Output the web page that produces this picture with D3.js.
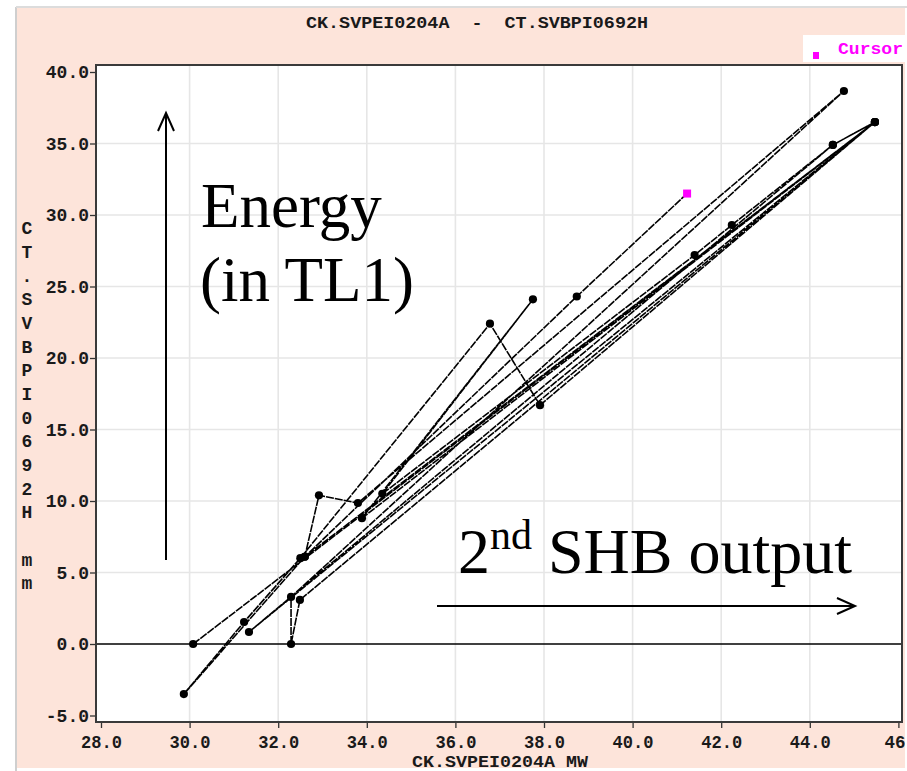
<!DOCTYPE html>
<html>
<head>
<meta charset="utf-8">
<script src="https://cdn.jsdelivr.net/npm/d3@7"></script>
<style>
  html, body { margin: 0; padding: 0; background: #ffffff; }
  svg { display: block; }
  text { white-space: pre; }
</style>
</head>
<body>
<script>
// ---------- data ----------
const titleText = "CK.SVPEI0204A  -  CT.SVBPI0692H";
const xAxisTitle = "CK.SVPEI0204A MW";
const yAxisTitle = ["C","T",".","S","V","B","P","I","0","6","9","2","H"," ","m","m"];
const xTicks = [28, 30, 32, 34, 36, 38, 40, 42, 44, 46];
const xTickLabels = ["28.0","30.0","32.0","34.0","36.0","38.0","40.0","42.0","44.0","46"];
const yTicks = [-5, 0, 5, 10, 15, 20, 25, 30, 35, 40];
const yTickLabels = ["-5.0","0.0","5.0","10.0","15.0","20.0","25.0","30.0","35.0","40.0"];

// trend path (MW, mm) in time order
const pathMW = [30.08, 45.47, 31.34, 44.52, 45.47, 32.49, 32.29, 32.29, 44.77, 33.80,
                32.92, 32.60, 29.87, 31.23, 32.50, 36.78, 37.91, 45.47, 33.89, 37.75,
                34.35, 41.40, 42.24, 44.52, 45.47, 32.60, 38.74];
const pathMM = [0.00, 36.50, 0.84, 34.90, 36.50, 3.08, 0.00, 3.29, 38.67, 9.86,
                10.40, 6.10, -3.50, 1.54, 6.00, 22.40, 16.70, 36.50, 8.80, 24.10,
                10.50, 27.20, 29.30, 34.90, 36.50, 6.10, 24.30];
const cursorMW = [41.23];
const cursorMM = [31.50];

const annotEnergy = ["Energy", "(in TL1)"];
const annotOutput = ["2", "nd", " SHB output"];
const legendText = "Cursor";

// ---------- layout ----------
const W = 907, H = 771;
const frame = {left: 96, right: 902, top: 65, bottom: 722};
const monoFont = "'Liberation Mono', 'DejaVu Sans Mono', monospace";
const serifFont = "'Liberation Serif', 'Times New Roman', serif";

const svg = d3.select("body").append("svg").attr("width", W).attr("height", H);

svg.append("defs").append("clipPath").attr("id", "pageClip")
  .append("rect").attr("x", 17).attr("y", 8).attr("width", 888).attr("height", 760);

// outer light border
svg.append("line").attr("x1", 16).attr("x2", 16).attr("y1", 7).attr("y2", 771)
  .attr("stroke", "#cfcfcf").attr("stroke-width", 2);
svg.append("line").attr("x1", 16).attr("x2", 907).attr("y1", 7).attr("y2", 7)
  .attr("stroke", "#dcdcdc").attr("stroke-width", 2);

const page = svg.append("g").attr("clip-path", "url(#pageClip)");
page.append("rect").attr("x", 17).attr("y", 8).attr("width", 888).attr("height", 760)
  .attr("fill", "#fde4da");

const x = d3.scaleLinear().domain([28, 46]).range([101, 898.4]);
const y = d3.scaleLinear().domain([-5, 40]).range([715.5, 72]);

// plot background
page.append("rect").attr("x", frame.left).attr("y", frame.top)
  .attr("width", frame.right - frame.left).attr("height", frame.bottom - frame.top)
  .attr("fill", "#ffffff");

// grid
const grid = page.append("g");
grid.selectAll("line.gx").data(xTicks.filter(d => d > 28 && d < 46)).join("line")
  .attr("x1", d => x(d)).attr("x2", d => x(d))
  .attr("y1", frame.top).attr("y2", frame.bottom)
  .attr("stroke", "#e6e6e6").attr("stroke-width", 1.6);
grid.selectAll("line.gy").data(yTicks.filter(d => d > -5 && d < 40 && d !== 0)).join("line")
  .attr("x1", frame.left).attr("x2", frame.right)
  .attr("y1", d => y(d)).attr("y2", d => y(d))
  .attr("stroke", "#e6e6e6").attr("stroke-width", 1.6);

// zero line
page.append("line").attr("x1", frame.left).attr("x2", frame.right)
  .attr("y1", y(0)).attr("y2", y(0)).attr("stroke", "#000").attr("stroke-width", 1.3);

// axes via d3 axes
const xAxis = d3.axisBottom(x).tickValues(xTicks).tickSize(6).tickSizeOuter(0)
  .tickFormat((d, i) => xTickLabels[i]);
const gx = page.append("g").attr("transform", `translate(0,${frame.bottom})`).call(xAxis);
gx.select(".domain").remove();
gx.selectAll(".tick line").attr("stroke", "#333").attr("stroke-width", 1.3);
gx.selectAll(".tick text").attr("y", 13).attr("dy", "0.72em")
  .style("font-family", monoFont).style("font-weight", "bold").style("font-size", "18px")
  .attr("fill", "#1a1a1a");
gx.selectAll(".tick text").filter((d, i) => i < xTicks.length - 1)
  .attr("textLength", 41).attr("lengthAdjust", "spacingAndGlyphs");
gx.selectAll(".tick text").filter((d, i) => i === xTicks.length - 1)
  .attr("text-anchor", "end").attr("x", 905 - x(46)).attr("textLength", 21)
  .attr("lengthAdjust", "spacingAndGlyphs");

const yAxis = d3.axisLeft(y).tickValues(yTicks).tickSize(6).tickSizeOuter(0)
  .tickFormat((d, i) => yTickLabels[i]);
const gy = page.append("g").attr("transform", `translate(${frame.left},0)`).call(yAxis);
gy.select(".domain").remove();
gy.selectAll(".tick line").attr("stroke", "#333").attr("stroke-width", 1.3);
gy.selectAll(".tick text").attr("x", -7)
  .style("font-family", monoFont).style("font-weight", "bold").style("font-size", "18px")
  .attr("fill", "#1a1a1a");

// frame
page.append("rect").attr("x", frame.left).attr("y", frame.top)
  .attr("width", frame.right - frame.left).attr("height", frame.bottom - frame.top)
  .attr("fill", "none").attr("stroke", "#3a3a3a").attr("stroke-width", 2);

// title
page.append("text").attr("x", 477).attr("y", 28).attr("text-anchor", "middle")
  .style("font-family", monoFont).style("font-weight", "bold").style("font-size", "17px")
  .attr("fill", "#1a1a1a").attr("textLength", 342).attr("lengthAdjust", "spacingAndGlyphs")
  .text(titleText);

// x axis title
page.append("text").attr("x", 500).attr("y", 767).attr("text-anchor", "middle")
  .style("font-family", monoFont).style("font-weight", "bold").style("font-size", "17px")
  .attr("fill", "#1a1a1a").attr("textLength", 176).attr("lengthAdjust", "spacingAndGlyphs")
  .text(xAxisTitle);

// y axis title (stacked letters)
page.append("g").selectAll("text").data(yAxisTitle).join("text")
  .attr("x", 27).attr("y", (d, i) => 228 + i * 23.67).attr("dy", "0.35em")
  .attr("text-anchor", "middle")
  .style("font-family", monoFont).style("font-weight", "bold").style("font-size", "18px")
  .attr("fill", "#1a1a1a").text(d => d);

// trend line + markers
const plot = page.append("g");
const pts = pathMW.map((d, i) => [d, pathMM[i]]);
const line = d3.line().x(d => x(d[0])).y(d => y(d[1]));
plot.append("path").attr("d", line(pts.concat([[cursorMW[0], cursorMM[0]]])))
  .attr("fill", "none").attr("stroke", "#000").attr("stroke-width", 1.6)
  .attr("stroke-dasharray", "8,1").attr("stroke-linejoin", "round");
plot.selectAll("circle").data(pts).join("circle")
  .attr("cx", d => x(d[0])).attr("cy", d => y(d[1])).attr("r", 4.1).attr("fill", "#000");

// cursor point
plot.selectAll("rect.cur").data(cursorMW).join("rect").attr("class", "cur")
  .attr("x", d => x(d) - 4).attr("y", (d, i) => y(cursorMM[i]) - 4)
  .attr("width", 8).attr("height", 8).attr("fill", "#ff00ff");

// legend
page.append("rect").attr("x", 803).attr("y", 35).attr("width", 102).attr("height", 27)
  .attr("fill", "#ffffff");
page.append("rect").attr("x", 813).attr("y", 52).attr("width", 6).attr("height", 7)
  .attr("fill", "#ff00ff");
page.append("text").attr("x", 838).attr("y", 54)
  .style("font-family", monoFont).style("font-weight", "bold").style("font-size", "17px")
  .attr("fill", "#ff00ff").attr("textLength", 65).attr("lengthAdjust", "spacingAndGlyphs")
  .text(legendText);

// annotations
page.append("text").attr("x", 201).attr("y", 227)
  .style("font-family", serifFont).style("font-size", "63px").attr("fill", "#000")
  .text(annotEnergy[0]);
page.append("text").attr("x", 200).attr("y", 301)
  .style("font-family", serifFont).style("font-size", "63px").attr("fill", "#000")
  .text(annotEnergy[1]);
const t2 = page.append("text").attr("x", 458).attr("y", 573)
  .style("font-family", serifFont).style("font-size", "64px").attr("fill", "#000");
t2.append("tspan").text(annotOutput[0]);
t2.append("tspan").attr("dy", -24).style("font-size", "42px").text(annotOutput[1]);
t2.append("tspan").attr("dy", 24).text(annotOutput[2]);

// arrows
const arr = page.append("g").attr("stroke", "#000").attr("stroke-width", 2).attr("fill", "none");
arr.append("line").attr("x1", 166).attr("x2", 166).attr("y1", 560).attr("y2", 113);
arr.append("path").attr("d", "M158,131 L166,113 L174,131");
arr.append("line").attr("x1", 437).attr("x2", 854).attr("y1", 606).attr("y2", 606);
arr.append("path").attr("d", "M837,598 L855,606 L837,614");
</script>
</body>
</html>
